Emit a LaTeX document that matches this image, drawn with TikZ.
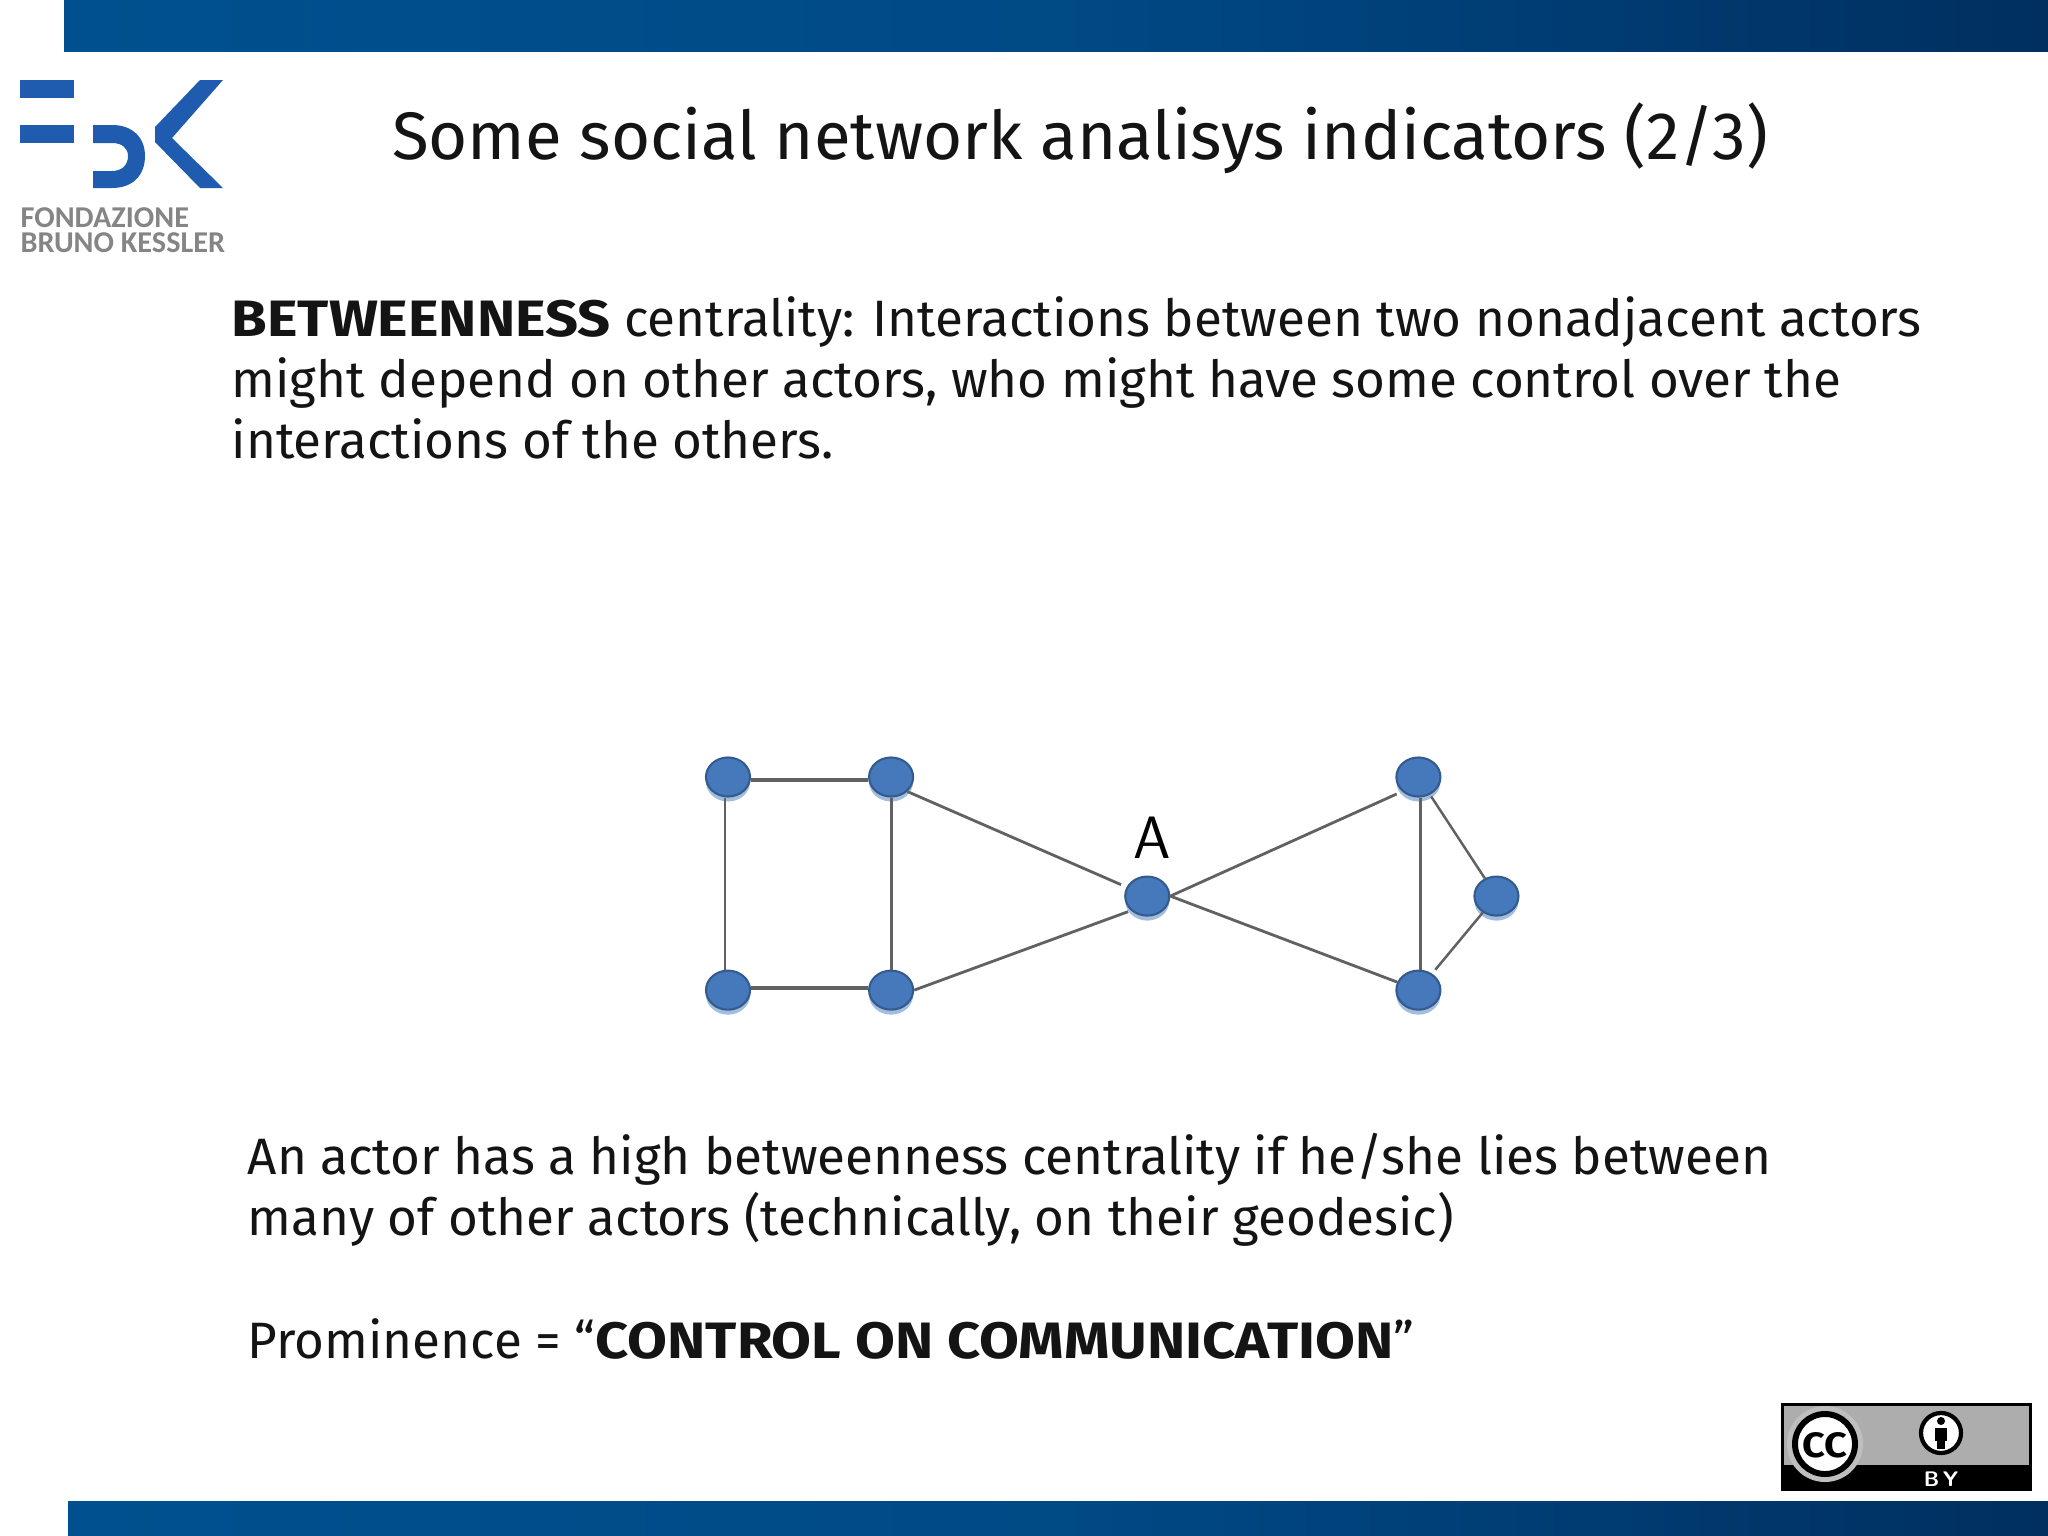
\documentclass[tikz,border=0pt]{standalone}
\usepackage{fontspec}
\setmainfont{Fira Sans}[BoldFeatures={FakeStretch=1.13}]
\newfontfamily\logofont{Carlito}
\usepackage{xcolor}
\usetikzlibrary{shapes.geometric, shadows}
\definecolor{bandleft}{HTML}{00508F}
\definecolor{bandmid}{HTML}{004A86}
\definecolor{bandright}{HTML}{002F60}
\definecolor{logoblue}{HTML}{1F5CB0}
\definecolor{actorblue}{HTML}{4579BC}
\tikzstyle{actor} = [
    ellipse, 
    minimum width=0.44cm, minimum height=0.39cm, inner sep=0pt,
    draw=actorblue!75!black, semithick, fill=actorblue,
    general shadow={shadow yshift=-0.05cm, fill=actorblue!70, opacity=0.7}]
\tikzstyle{tie} = [draw=black!62, line width=0.8pt]
\tikzstyle{band} = [left color=bandleft, right color=bandright, middle color=bandmid, draw=none]
\tikzstyle{slidetext} = [anchor=west, align=left, inner sep=0pt, text=black!92,
    font=\fontsize{14.55}{17.4}\selectfont]
\tikzstyle{logotext} = [anchor=north west, align=left, inner sep=0pt, text=black!48, 
    font=\logofont\bfseries\fontsize{8.6}{7.1}\selectfont]
\tikzstyle{logoshape} = [fill=logoblue, draw=none]
\begin{document}
\begin{tikzpicture}[x=0.01cm, y=-0.01cm, node distance=1.63cm]
    \useasboundingbox (0,0) rectangle (2048,1536);
    \fill[white] (0,0) rectangle (2048,1536);

    % bands
    \fill[band] (64,0) rectangle (2048,51);
    \fill[band] (68,1501) rectangle (2048,1536);

    % logo
    \fill[logoshape] (20,80) rectangle (74,98);
    \fill[logoshape] (20,125) rectangle (74,143);
    \fill[logoshape] (93,125) -- (112,125) .. controls (133,125) and (145,138) .. (145,156) .. controls (145,175) and (133,188) .. (112,188) -- (93,188) -- (93,171) -- (112,171) .. controls (122,171) and (128,165) .. (128,156) .. controls (128,148) and (122,143) .. (112,143) -- (93,143) -- cycle;
    \fill[logoshape] (223,80) -- (200,80) -- (155,127) -- (155,142) -- (200,188) -- (223,188) -- (172,138) -- cycle;
    \node (logo_name) [logotext] at (20,207) {FONDAZIONE\\BRUNO KESSLER};

    % texts
    \node (title) [font=\fontsize{19.1}{24}\selectfont, text=black!92, inner sep=0pt] at (1080,138) {Some social network analisys indicators (2/3)};
    \node (intro) [slidetext] at (231,378) {\textbf{BETWEENNESS} centrality: Interactions between two nonadjacent actors\\might depend on other actors, who might have some control over the\\interactions of the others.};
    \node (explain) [slidetext] at (247,1190) {An actor has a high betweenness centrality if he/she lies between\\many of other actors (technically, on their geodesic)};
    \node (prominence) [slidetext] at (247,1339) {Prominence = “\textbf{CONTROL ON COMMUNICATION}”};

    % graph
    \node (top_left) [actor] at (728,777) {};
    \node (top_mid) [actor, right of=top_left] {};
    \node (bottom_left) [actor, below of=top_left, yshift=-0.5cm] {};
    \node (bottom_mid) [actor, below of=top_mid, yshift=-0.5cm] {};
    \node (center) [actor, right of=top_mid, xshift=0.93cm, yshift=-1.19cm] {};
    \node (top_right) [actor, right of=center, xshift=1.08cm, yshift=1.19cm] {};
    \node (bottom_right) [actor, below of=top_right, yshift=-0.5cm] {};
    \node (far_right) [actor, right of=center, xshift=1.86cm] {};
    \node (label_a) [above of=center, yshift=-1.05cm, xshift=0.05cm, inner sep=0pt, font=\sffamily\fontsize{17}{17}\selectfont] {A};

    \draw [tie, line width=1pt] ([yshift=-0.03cm]top_left.east) -- ([yshift=-0.03cm]top_mid.west);
    \draw [tie, line width=1pt] ([yshift=0.02cm]bottom_left.east) -- ([yshift=0.02cm]bottom_mid.west);
    \draw [tie] ([xshift=-0.03cm]top_left.south) -- ([xshift=-0.03cm]bottom_left.north);
    \draw [tie] (top_mid) -- (bottom_mid);
    \draw [tie] ([xshift=0.02cm]top_right.south) -- ([xshift=0.02cm]bottom_right.north);
    \draw [tie, shorten >=0.06cm] (top_mid.south east) -- (center);
    \draw [tie, shorten >=0.03cm] (bottom_mid.east) -- (center.south west);
    \draw [tie, shorten >=0.06cm] (center.east) -- (top_right.south west);
    \draw [tie] (center.east) -- (bottom_right);
    \draw [tie, line width=0.7pt, shorten <=0.02cm] (top_right) -- (far_right);
    \draw [tie, line width=0.7pt, shorten >=0.05cm] (far_right) -- (bottom_right);

    % licence badge
    \fill[black] (1781,1403) rectangle (2032,1491);
    \fill[black!32] (1784,1406) rectangle (2029,1465);
    \fill[black!25] (1825,1444) circle (38);
    \filldraw[fill=white, draw=black, line width=1.7pt] (1825,1444) circle (30);
    \node (cc_text) [inner sep=0pt, font=\bfseries\fontsize{10}{10}\selectfont] at (1825,1445) {CC};
    \filldraw[fill=white, draw=black, line width=1.2pt] (1941,1433) circle (20);
    \fill[black] (1941,1421) circle (4);
    \fill[black] (1935,1428) rectangle (1947,1441);
    \fill[black] (1937,1441) rectangle (1945,1449);
    \node (by_text) [inner sep=0pt, text=white, font=\sffamily\bfseries\fontsize{6}{6}\selectfont] at (1941,1479) {B\kern1pt Y};
\end{tikzpicture}
\end{document}
